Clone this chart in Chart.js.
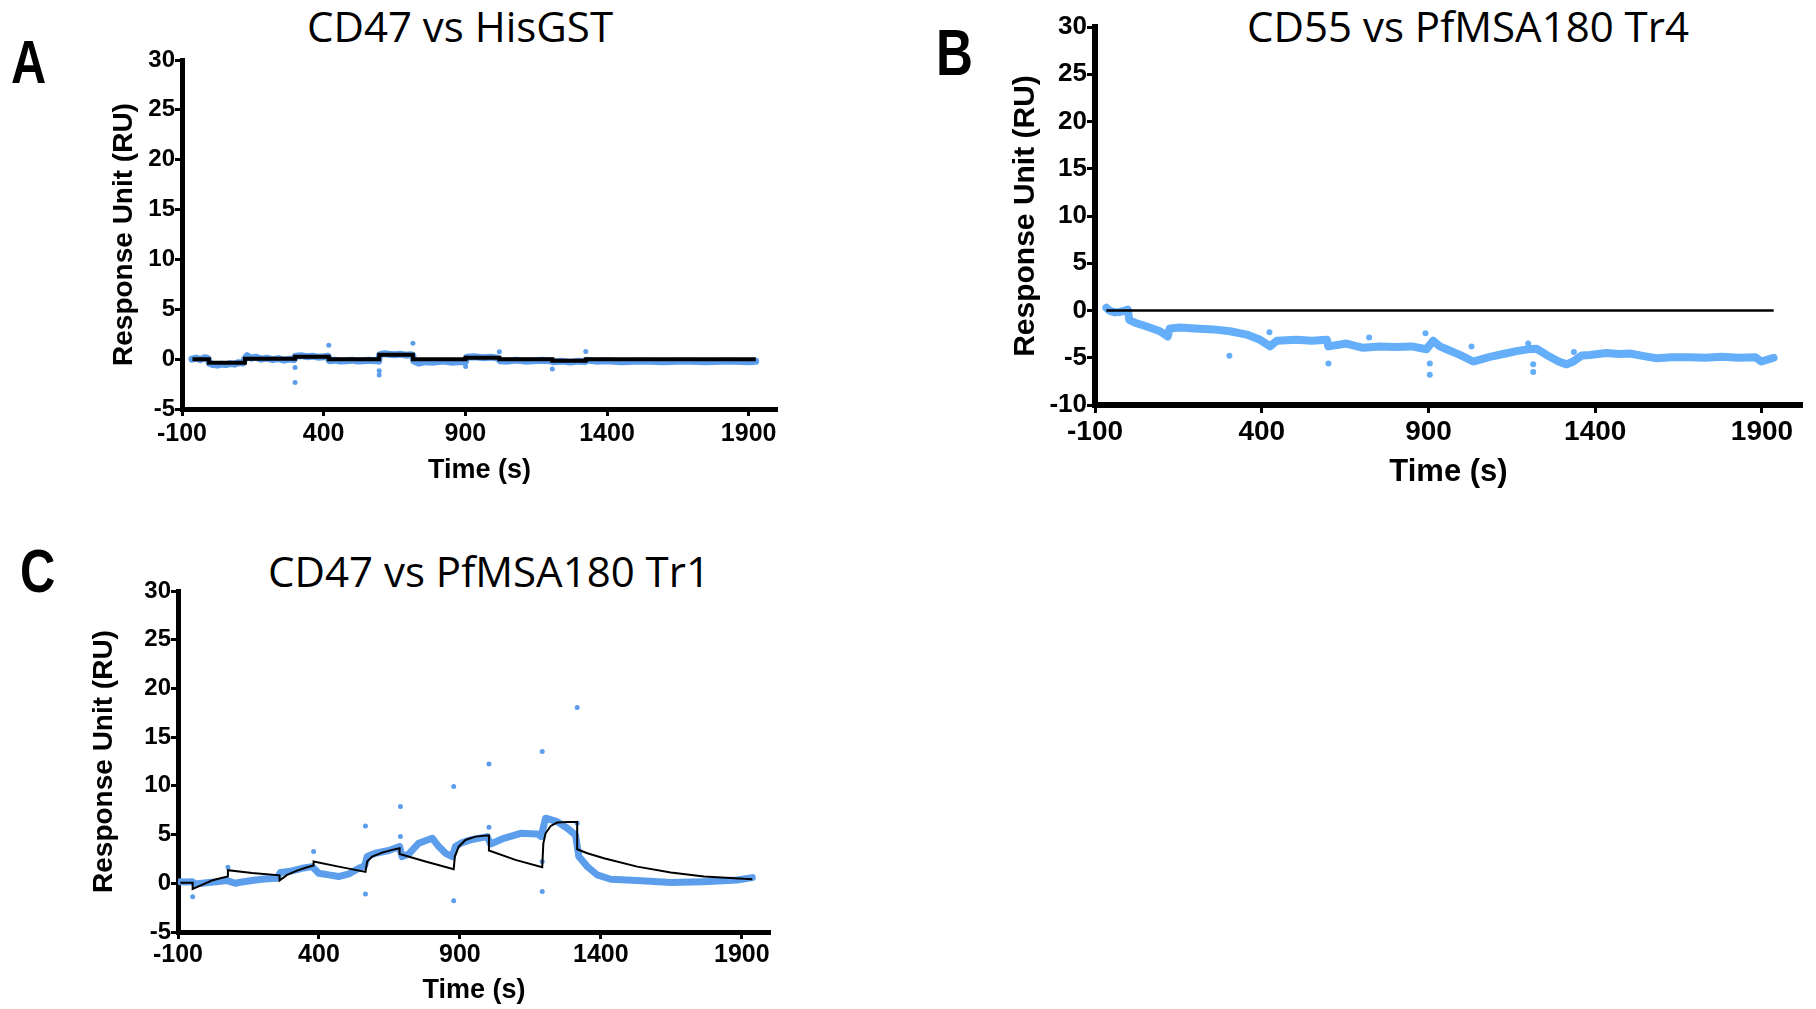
<!DOCTYPE html>
<html>
<head>
<meta charset="utf-8">
<title>SPR sensorgrams</title>
<script src="https://cdn.jsdelivr.net/npm/chart.js@4.4.1/dist/chart.umd.min.js"></script>
<style>
  html, body { margin: 0; padding: 0; background: #fff; }
  body { width: 1816px; height: 1009px; position: relative; overflow: hidden; }
  canvas { position: absolute; }
  .letter {
    position: absolute; font-family: 'Liberation Sans', Arial, sans-serif; font-weight: bold;
    line-height: 1; transform-origin: 0 0; transform: scaleX(0.8); color: #000;
  }
  .title {
    position: absolute; font-family: 'Open Sans', sans-serif; font-size: 42px; line-height: 1;
    white-space: nowrap; transform: translateX(-50%); color: #000;
  }
</style>
</head>
<body>

<div class="letter" style="left:11px; top:32px; font-size:61px;">A</div>
<div class="letter" style="left:936px; top:21px; font-size:64px;">B</div>
<div class="letter" style="left:20px; top:541px; font-size:61px;">C</div>

<div class="title" style="left:460px; top:5px;">CD47 vs HisGST</div>
<div class="title" style="left:1468px; top:5px;">CD55 vs PfMSA180 Tr4</div>
<div class="title" style="left:489px; top:550px;">CD47 vs PfMSA180 Tr1</div>

<canvas id="chartA" width="707" height="460" style="left:90px; top:40px;"></canvas>
<canvas id="chartB" width="816" height="493" style="left:1000px; top:7px;"></canvas>
<canvas id="chartC" width="720" height="438" style="left:70px; top:571px;"></canvas>

<script>
// Axis ticks shared by the panels
const xTickVals = [-100, 400, 900, 1400, 1900];
const yTicksAC = [-5, 0, 5, 10, 15, 20, 25, 30];
const yTicksB = [-10, -5, 0, 5, 10, 15, 20, 25, 30];

// Panel A: CD47 vs HisGST (measured trace, outliers, stepped fit)
const aTime = [-65, -50, -35, -20, -8, -4, 10, 25, 40, 55, 70, 85, 100, 115, 122, 130, 145, 160, 180, 200,
  220, 240, 260, 280, 295, 300, 320, 340, 360, 380, 400, 415, 420, 440, 460, 480, 500, 520, 540, 560,
  580, 594, 598, 615, 630, 650, 670, 690, 705, 714, 718, 735, 760, 790, 820, 850, 880, 900, 905, 930,
  960, 990, 1015, 1022, 1050, 1080, 1110, 1140, 1170, 1200, 1210, 1240, 1270, 1300, 1322, 1330, 1360, 1400, 1450, 1500,
  1550, 1600, 1650, 1700, 1750, 1800, 1850, 1900, 1925];
const aResp = [0.0, 0.1, -0.05, 0.15, 0.05, -0.4, -0.55, -0.6, -0.5, -0.55, -0.45, -0.5, -0.35, -0.4, 0.05, 0.35, 0.1, 0.2, 0.0, 0.1,
  -0.05, 0.05, -0.1, 0.0, -0.05, 0.3, 0.35, 0.25, 0.3, 0.2, 0.25, 0.3, -0.15, -0.1, -0.2, -0.15, -0.1, -0.2, -0.15, -0.1,
  -0.15, -0.2, 0.45, 0.55, 0.5, 0.45, 0.5, 0.4, 0.45, 0.4, -0.2, -0.4, -0.25, -0.3, -0.2, -0.3, -0.25, -0.3, 0.2, 0.25,
  0.15, 0.2, 0.1, -0.15, -0.2, -0.1, -0.2, -0.15, -0.1, -0.15, -0.25, -0.2, -0.3, -0.2, -0.25, -0.1, -0.2, -0.15, -0.25, -0.2,
  -0.2, -0.25, -0.2, -0.2, -0.25, -0.2, -0.2, -0.25, -0.2];
const aOutT = [299, 299, 418, 596, 596, 715, 901, 1020, 1207, 1325];
const aOutY = [-0.83, -2.33, 1.4, -1.17, -1.6, 1.6, -0.73, 0.73, -1.0, 0.77];
const aFitT = [-63, -5, 122, 299, 418, 596, 715, 901, 1020, 1207, 1325, 1925];
const aFitY = [0, -0.35, 0.05, 0.25, 0, 0.45, 0, 0.15, 0, -0.15, 0, 0];

// Panel B: CD55 vs PfMSA180 Tr4
const bTime = [-66, -55, -40, -25, -10, -2, 3, 20, 55, 95, 118, 124, 155, 200, 255, 305, 355, 395,
  425, 445, 475, 505, 550, 595, 600, 654, 704, 754, 800, 850, 894, 914, 934, 954, 994, 1034,
  1084, 1124, 1164, 1199, 1224, 1264, 1290, 1314, 1334, 1360, 1384, 1434, 1470, 1504, 1550, 1584, 1630, 1684,
  1730, 1780, 1830, 1880, 1898, 1935];
const bResp = [0.3, -0.05, -0.2, -0.15, 0.0, 0.1, -1.0, -1.3, -1.7, -2.2, -2.75, -1.9, -1.8, -1.9, -2.0, -2.2, -2.55, -3.1,
  -3.8, -3.2, -3.15, -3.1, -3.2, -3.1, -3.8, -3.5, -3.95, -3.8, -3.85, -3.8, -4.1, -3.2, -3.8, -4.1, -4.7, -5.4,
  -4.9, -4.6, -4.3, -4.1, -4.05, -4.9, -5.4, -5.7, -5.4, -4.75, -4.7, -4.5, -4.6, -4.55, -4.85, -5.05, -4.95, -4.95,
  -5.0, -4.9, -5.0, -4.95, -5.4, -5.0];
const bOutT = [303, 423, 600, 722, 891, 904, 904, 1029, 1199, 1214, 1214, 1336];
const bOutY = [-4.8, -2.3, -5.6, -2.85, -2.4, -5.6, -6.8, -3.8, -3.5, -5.7, -6.5, -4.4];
const bFitT = [-66, 1935];
const bFitY = [0, 0];

// Panel C: CD47 vs PfMSA180 Tr1
const cTime = [-92, -68, -50, -39, -15, 9, 44, 74, 103, 127, 163, 198, 234, 251, 263, 293, 340, 376, 399, 435,
  470, 506, 541, 562, 571, 600, 648, 686, 695, 719, 754, 802, 825, 849, 873, 884, 908, 938, 997, 1009,
  1056, 1115, 1174, 1188, 1204, 1245, 1281, 1310, 1322, 1352, 1387, 1435, 1529, 1648, 1766, 1884, 1937];
const cResp = [0.17, 0.14, 0.17, -0.07, 0.0, 0.07, 0.17, 0.28, 0.0, 0.14, 0.28, 0.41, 0.48, 0.52, 1.1, 1.2, 1.54, 1.71, 1.03, 0.86,
  0.69, 0.96, 1.54, 1.78, 2.74, 3.08, 3.36, 3.77, 2.74, 3.01, 4.11, 4.62, 3.77, 3.08, 2.74, 3.77, 4.18, 4.45, 4.79, 4.04,
  4.62, 5.13, 5.07, 4.79, 6.68, 6.33, 5.65, 4.96, 2.74, 1.71, 0.86, 0.41, 0.28, 0.07, 0.17, 0.34, 0.58];
const cOutT = [-48, 77, 381, 565, 565, 689, 689, 878, 878, 1003, 1003, 1192, 1192, 1192, 1316, 1316];
const cOutY = [-1.37, 1.64, 3.25, 5.89, -1.09, 7.87, 4.79, 9.93, -1.78, 12.25, 5.75, 13.52, 2.23, -0.85, 18.04, 6.16];
const cFitT = [-92, -48, -48, -15, 20, 50, 77, 77, 163, 260, 260, 287, 322, 358, 381, 381, 470, 565, 571, 589,
  624, 660, 686, 686, 778, 878, 882, 896, 920, 955, 1003, 1003, 1097, 1192, 1196, 1204, 1222, 1245, 1281, 1316,
  1316, 1352, 1411, 1529, 1648, 1766, 1937];
const cFitY = [0.05, 0.05, -0.58, -0.17, 0.28, 0.52, 0.69, 1.34, 1.06, 0.82, 0.28, 0.86, 1.3, 1.65, 1.82, 2.23, 1.71, 1.17, 2.23, 2.74,
  3.15, 3.43, 3.6, 3.01, 2.23, 1.44, 2.74, 3.77, 4.45, 4.79, 4.93, 3.36, 2.4, 1.64, 4.11, 5.13, 5.89, 6.23, 6.3, 6.3,
  3.49, 3.08, 2.57, 1.71, 1.1, 0.69, 0.41];

const SANS = "'Liberation Sans', Arial, sans-serif";

// zip two arrays into {x, y} points
function pts(xs, ys) {
    return xs.map((x, i) => ({ x: x, y: ys[i] }));
}

function drawPanel(id, p) {
    const ctx = document.getElementById(id).getContext('2d');

    return new Chart(ctx, {
        type: 'scatter',
        data: {
            datasets: [
                {   // fitted curve, drawn on top
                    data: pts(p.fitT, p.fitY),
                    showLine: true,
                    stepped: p.stepped,
                    borderColor: '#000',
                    borderWidth: p.fitWidth,
                    pointRadius: 0
                },
                {   // spikes
                    data: pts(p.outT, p.outY),
                    showLine: false,
                    pointRadius: p.dotR,
                    backgroundColor: p.blue,
                    borderWidth: 0
                },
                {   // measured response
                    data: pts(p.time, p.resp),
                    showLine: true,
                    borderColor: p.blue,
                    borderWidth: p.bandWidth,
                    borderJoinStyle: 'round',
                    borderCapStyle: 'round',
                    pointRadius: 0
                }
            ]
        },
        options: {
            responsive: false,
            animation: false,
            events: [],
            layout: { padding: { top: 20, right: p.padRight, left: 0, bottom: 0 } },
            plugins: { legend: { display: false }, tooltip: { enabled: false } },
            scales: {
                x: {
                    type: 'linear',
                    min: -100,
                    max: p.xMax,
                    afterBuildTicks: s => { s.ticks = xTickVals.map(v => ({ value: v })); },
                    afterFit: s => { s.height = p.xAxisH; },
                    border: { display: true, color: '#000', width: p.axisW },
                    grid: { display: true, drawOnChartArea: false, drawTicks: true, tickLength: p.tickLen, tickWidth: 3, tickColor: '#000' },
                    ticks: {
                        color: '#000',
                        font: { family: SANS, size: p.xTickSize, weight: 'bold' },
                        padding: p.xTickPad,
                        maxRotation: 0,
                        autoSkip: false,
                        callback: v => String(v)
                    },
                    title: {
                        display: true,
                        text: 'Time (s)',
                        color: '#000',
                        font: { family: SANS, size: p.xTitleSize, weight: 'bold' },
                        padding: { top: 0, bottom: p.xTitlePad }
                    }
                },
                y: {
                    type: 'linear',
                    min: p.yTicks[0],
                    max: 30,
                    afterBuildTicks: s => { s.ticks = p.yTicks.map(v => ({ value: v })); },
                    afterFit: s => { s.width = p.yAxisW; },
                    border: { display: true, color: '#000', width: p.axisW },
                    grid: { display: true, drawOnChartArea: false, drawTicks: true, tickLength: p.tickLen, tickWidth: 3, tickColor: '#000' },
                    ticks: {
                        color: '#000',
                        font: { family: SANS, size: p.yTickSize, weight: 'bold' },
                        padding: 0,
                        autoSkip: false,
                        callback: v => String(v)
                    },
                    title: {
                        display: true,
                        text: 'Response Unit (RU)',
                        color: '#000',
                        font: { family: SANS, size: p.yTitleSize, weight: 'bold' },
                        padding: { top: p.yTitlePad, bottom: 0 }
                    }
                }
            }
        }
    });
}

drawPanel('chartA', {
    time: aTime, resp: aResp, outT: aOutT, outY: aOutY, fitT: aFitT, fitY: aFitY,
    stepped: true, fitWidth: 4, bandWidth: 7, dotR: 2.5, blue: '#5C9EEC',
    xMax: 2000, yTicks: yTicksAC, padRight: 20, xAxisH: 91, yAxisW: 92, axisW: 5, tickLen: 7,
    xTickSize: 25, yTickSize: 24, xTickPad: 3, xTitleSize: 27, xTitlePad: 13, yTitleSize: 28, yTitlePad: 17
});

drawPanel('chartB', {
    time: bTime, resp: bResp, outT: bOutT, outY: bOutY, fitT: bFitT, fitY: bFitY,
    stepped: false, fitWidth: 2.5, bandWidth: 8, dotR: 3, blue: '#64AEFA',
    xMax: 2020, yTicks: yTicksB, padRight: 14, xAxisH: 95, yAxisW: 95, axisW: 6, tickLen: 8,
    xTickSize: 28, yTickSize: 26, xTickPad: 2, xTitleSize: 31, xTitlePad: 9, yTitleSize: 30, yTitlePad: 8
});

drawPanel('chartC', {
    time: cTime, resp: cResp, outT: cOutT, outY: cOutY, fitT: cFitT, fitY: cFitY,
    stepped: false, fitWidth: 2, bandWidth: 7, dotR: 2.5, blue: '#5C9EEC',
    xMax: 2000, yTicks: yTicksAC, padRight: 20, xAxisH: 77, yAxisW: 108, axisW: 5, tickLen: 7,
    xTickSize: 25, yTickSize: 24, xTickPad: 1, xTitleSize: 27, xTitlePad: 2, yTitleSize: 28, yTitlePad: 17
});
</script>
</body>
</html>
